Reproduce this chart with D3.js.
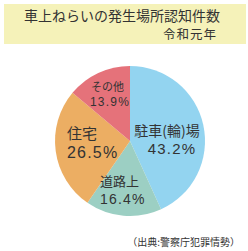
<!DOCTYPE html>
<html>
<head>
<meta charset="utf-8">
<script src="https://cdn.jsdelivr.net/npm/d3@7"></script>
<style>
  body { margin: 0; background: #fff; }
  text { font-family: "Noto Sans CJK JP", sans-serif; fill: #333; }
  text.pct { font-family: "Liberation Sans", sans-serif; }
</style>
</head>
<body>
<div id="chart"></div>
<script>
/* DATA */
const categories = ["駐車(輪)場", "道路上", "住宅", "その他"];
const values = [43.2, 16.4, 26.5, 13.9];
const colors = ["#93d4f0", "#9ccfc3", "#ecae63", "#e5727a"];
const title = "車上ねらいの発生場所認知件数";
const subtitle = "令和元年";
const source = "（出典:警察庁犯罪情勢）";

// label placement relative to pie centre
const labelPos = [
  { nx: 37, ny: -5, px: 42, py: 13, size: 14, anchor: "middle" },
  { nx: -30, ny: 45, px: -30, py: 63, size: 13, anchor: "start" },
  { nx: -63, ny: -2, px: -63, py: 17, size: 15, anchor: "start" },
  { nx: -39, ny: -50, px: -40, py: -35, size: 11, anchor: "start" }
];

const width = 248, height = 251;
const cx = 130, cy = 141, radius = 75;

const svg = d3.select("#chart").append("svg")
  .attr("width", width)
  .attr("height", height);

// title box
svg.append("rect")
  .attr("x", 4).attr("y", 4)
  .attr("width", 242).attr("height", 40)
  .attr("fill", "#f5f2b9");

svg.append("text")
  .attr("x", 122).attr("y", 20.5)
  .attr("text-anchor", "middle")
  .attr("font-size", 14)
  .text(title);

svg.append("text")
  .attr("x", 217).attr("y", 39)
  .attr("text-anchor", "end")
  .attr("font-size", 12.5)
  .attr("letter-spacing", 1)
  .text(subtitle);

// pie
const pie = d3.pie().sort(null).value(d => d.value);
const arc = d3.arc().innerRadius(0).outerRadius(radius);

const data = categories.map((c, i) => ({ name: c, value: values[i], color: colors[i], pos: labelPos[i] }));

const g = svg.append("g").attr("transform", `translate(${cx},${cy})`);

g.selectAll("path.slice")
  .data(pie(data))
  .join("path")
  .attr("class", "slice")
  .attr("d", arc)
  .attr("fill", d => d.data.color);

g.selectAll("text.name")
  .data(pie(data))
  .join("text")
  .attr("class", "name")
  .attr("text-anchor", d => d.data.pos.anchor)
  .attr("font-size", d => d.data.pos.size)
  .attr("x", d => d.data.pos.nx)
  .attr("y", d => d.data.pos.ny)
  .text(d => d.data.name);

g.selectAll("text.pct")
  .data(pie(data))
  .join("text")
  .attr("class", "pct")
  .attr("text-anchor", d => d.data.pos.anchor)
  .attr("font-size", d => d.data.pos.size + 1)
  .attr("letter-spacing", 1.2)
  .attr("x", d => d.data.pos.px)
  .attr("y", d => d.data.pos.py)
  .text(d => d3.format(".1f")(d.data.value) + "%");

svg.append("text")
  .attr("x", 240).attr("y", 246)
  .attr("text-anchor", "end")
  .attr("font-size", 10)
  .text(source);
</script>
</body>
</html>
